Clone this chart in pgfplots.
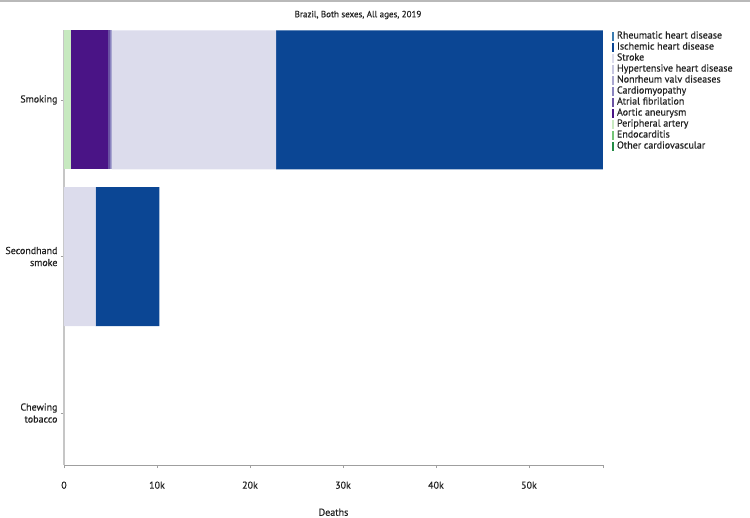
\documentclass[border=0pt]{standalone}
\usepackage{pgfplots}
\pgfplotsset{compat=1.18}
\usepackage{fontspec}
\setmainfont{PT Sans}[FakeBold=0.5]
\definecolor{cRheu}{HTML}{3A7BB0}
\definecolor{cIsch}{HTML}{0B4694}
\definecolor{cStroke}{HTML}{DCDCEC}
\definecolor{cHyp}{HTML}{C6C6E0}
\definecolor{cNon}{HTML}{A9A6D0}
\definecolor{cCardio}{HTML}{8B84C0}
\definecolor{cAtrial}{HTML}{6A51A3}
\definecolor{cAortic}{HTML}{4A1486}
\definecolor{cPeri}{HTML}{C7E9C0}
\definecolor{cEndo}{HTML}{74C476}
\definecolor{cOther}{HTML}{238B45}
\definecolor{txt}{HTML}{222222}
\begin{document}
\begin{tikzpicture}
\path[use as bounding box] (0pt,0pt) rectangle (750pt,517pt);
\draw[gray!55, line width=1.5pt] (0pt,516.2pt) -- (750pt,516.2pt);
\node[font=\fontsize{9}{10}\selectfont, text=txt] at (358pt,502pt) {Brazil, Both sexes, All ages, 2019};
\begin{axis}[
  at={(64pt,52pt)}, anchor=south west,
  width=539pt, height=435pt, scale only axis,
  xbar stacked, bar width=139pt,
  y dir=reverse, ymin=-0.447, ymax=2.332,
  xmin=0, xmax=57960,
  ytick={0,1,2},
  yticklabels={Smoking, Secondhand\\smoke, Chewing\\tobacco},
  yticklabel style={align=right, font=\fontsize{10}{12}\selectfont, text=txt},
  xtick={0,10000,20000,30000,40000,50000},
  xticklabels={0,10k,20k,30k,40k,50k},
  extra x ticks={57960}, extra x tick labels={},
  scaled x ticks=false,
  xticklabel style={font=\fontsize{10}{11}\selectfont, text=txt, yshift=-10pt},
  /pgf/number format/assume math mode=true,
  axis x line*=bottom, axis y line*=left,
  x axis line style={gray!75, line width=1pt},
  y axis line style={gray!45, line width=2pt},
  tick align=outside, major tick length=3pt,
  every tick/.style={gray!75, line width=0.8pt},
  xlabel={Deaths},
  xlabel style={font=\fontsize{10}{11}\selectfont, text=txt, yshift=-7pt},
  reverse legend,
  legend style={at={(1,1)}, anchor=north west, xshift=6pt, yshift=1pt, draw=none, fill=none,
    font=\fontsize{10}{11}\selectfont, text=txt, row sep=1.1pt,
    nodes={inner sep=0.3pt, text height=7pt, text depth=2.3pt, anchor=west}},
  legend cell align=left,
  legend image code/.code={\fill (0pt,-4.5pt) rectangle (2.2pt,4.5pt); \path (4.5pt,0pt);},
]
\addplot[fill=cOther, draw=none] coordinates {(0,0) (0,1) (0,2)};
\addplot[fill=cEndo, draw=none] coordinates {(0,0) (0,1) (0,2)};
\addplot[fill=cPeri, draw=none] coordinates {(780,0) (0,1) (0,2)};
\addplot[fill=cAortic, draw=none] coordinates {(3910,0) (0,1) (0,2)};
\addplot[fill=cAtrial, draw=none] coordinates {(230,0) (0,1) (0,2)};
\addplot[fill=cCardio, draw=none] coordinates {(110,0) (0,1) (0,2)};
\addplot[fill=cNon, draw=none] coordinates {(50,0) (0,1) (0,2)};
\addplot[fill=cHyp, draw=none] coordinates {(60,0) (0,1) (0,2)};
\addplot[fill=cStroke, draw=none] coordinates {(17670,0) (3410,1) (0,2)};
\addplot[fill=cIsch, draw=none] coordinates {(35140,0) (6840,1) (0,2)};
\addplot[fill=cRheu, draw=none] coordinates {(0,0) (0,1) (0,2)};
\legend{Other cardiovascular, Endocarditis, Peripheral artery, Aortic aneurysm, Atrial fibrilation, Cardiomyopathy, Nonrheum valv diseases, Hypertensive heart disease, Stroke, Ischemic heart disease, Rheumatic heart disease}
\end{axis}
\end{tikzpicture}
\end{document}
